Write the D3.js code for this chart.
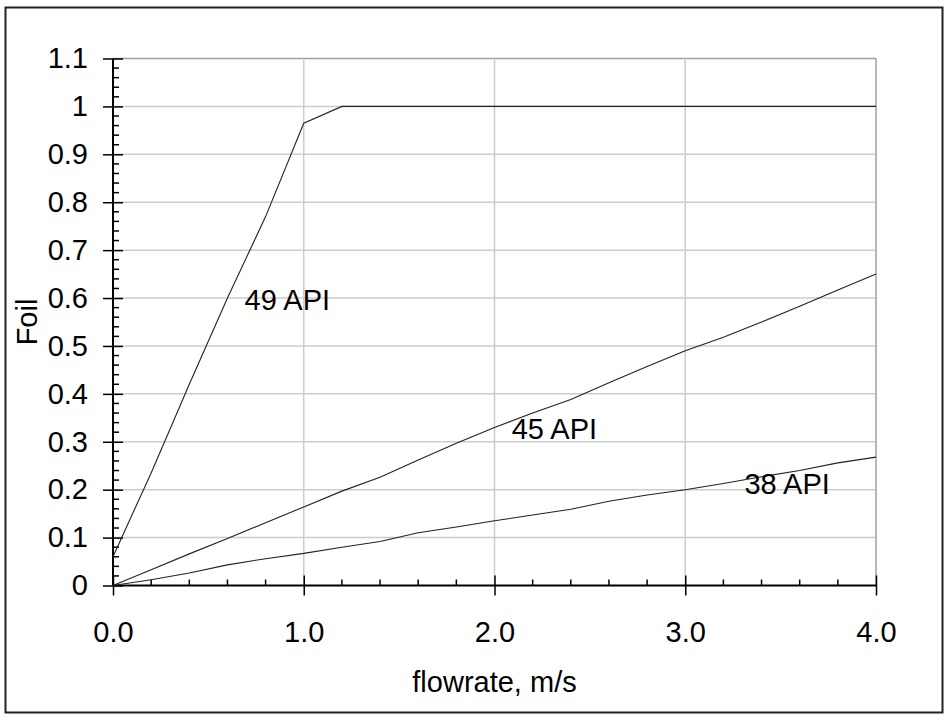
<!DOCTYPE html>
<html>
<head>
<meta charset="utf-8">
<script src="https://cdn.jsdelivr.net/npm/d3@7"></script>
<style>
  body { margin: 0; background: #fff; }
  text { font-family: "Liberation Sans", Arial, sans-serif; fill: #000; }
</style>
</head>
<body>
<svg width="949" height="720"></svg>
<script>
// flowrate (m/s) sample points
var flow = [0, 0.2, 0.4, 0.6, 0.8, 1.0, 1.2, 1.4, 1.6, 1.8, 2.0,
            2.2, 2.4, 2.6, 2.8, 3.0, 3.2, 3.4, 3.6, 3.8, 4.0];

// Foil per oil gravity
var api49 = [0.06, 0.235, 0.42, 0.60, 0.77, 0.965, 1, 1, 1, 1, 1,
             1, 1, 1, 1, 1, 1, 1, 1, 1, 1];
var api45 = [0, 0.033, 0.066, 0.098, 0.131, 0.164, 0.197, 0.226, 0.262, 0.297, 0.33,
             0.36, 0.388, 0.423, 0.457, 0.49, 0.518, 0.55, 0.583, 0.617, 0.65];
var api38 = [0, 0.012, 0.026, 0.043, 0.056, 0.067, 0.08, 0.092, 0.11, 0.122, 0.135,
             0.147, 0.159, 0.176, 0.189, 0.2, 0.213, 0.227, 0.24, 0.256, 0.268];

var seriesNames = ["49 API", "45 API", "38 API"];
// where each label sits (data coords)
var labelX = [0.69, 2.09, 3.31];
var labelY = [0.575, 0.305, 0.19];

var yTicks = [0, 0.1, 0.2, 0.3, 0.4, 0.5, 0.6, 0.7, 0.8, 0.9, 1, 1.1];
var yTickLabels = ["0", "0.1", "0.2", "0.3", "0.4", "0.5", "0.6", "0.7", "0.8", "0.9", "1", "1.1"];
var xTicks = [0, 1, 2, 3, 4];
var xTickLabels = ["0.0", "1.0", "2.0", "3.0", "4.0"];

var svg = d3.select("svg");

// outer frame
svg.append("rect")
    .attr("x", 5.5).attr("y", 7.5)
    .attr("width", 937).attr("height", 705)
    .attr("fill", "none")
    .attr("stroke", "#222")
    .attr("stroke-width", 2);

var x = d3.scaleLinear().domain([0, 4]).range([113, 876]);
var y = d3.scaleLinear().domain([0, 1.1]).range([585.5, 58.5]);

var g = svg.append("g");

// grid
g.selectAll(".hgrid")
    .data(yTicks.slice(1))
    .enter().append("line")
    .attr("x1", x(0)).attr("x2", x(4))
    .attr("y1", function(d) { return y(d); })
    .attr("y2", function(d) { return y(d); })
    .attr("stroke", function(d, i) { return i == yTicks.length - 2 ? "#a0a0a0" : "#cccccc"; })
    .attr("stroke-width", 1.5);

g.selectAll(".vgrid")
    .data(xTicks.slice(1))
    .enter().append("line")
    .attr("y1", y(0)).attr("y2", y(1.1))
    .attr("x1", function(d) { return x(d); })
    .attr("x2", function(d) { return x(d); })
    .attr("stroke", function(d, i) { return i == xTicks.length - 2 ? "#a0a0a0" : "#cccccc"; })
    .attr("stroke-width", 1.5);

// minor ticks
var yMinor = d3.range(0, 56).map(function(i) { return i * 0.02; }).filter(function(d, i) { return i % 5 != 0; });
g.selectAll(".yminor")
    .data(yMinor)
    .enter().append("line")
    .attr("x1", x(0)).attr("x2", x(0) + 6)
    .attr("y1", function(d) { return y(d); })
    .attr("y2", function(d) { return y(d); })
    .attr("stroke", "#000").attr("stroke-width", 1.5);

var xMinor = d3.range(0, 21).map(function(i) { return i * 0.2; }).filter(function(d, i) { return i % 5 != 0; });
g.selectAll(".xminor")
    .data(xMinor)
    .enter().append("line")
    .attr("y1", y(0)).attr("y2", y(0) - 6)
    .attr("x1", function(d) { return x(d); })
    .attr("x2", function(d) { return x(d); })
    .attr("stroke", "#000").attr("stroke-width", 1.5);

// axes
var yAxis = g.append("g")
    .attr("transform", "translate(" + x(0) + ",0)")
    .call(d3.axisLeft(y).tickValues(yTicks)
        .tickFormat(function(d, i) { return yTickLabels[i]; })
        .tickSizeOuter(0).tickSize(10).tickPadding(15));

var xAxis = g.append("g")
    .attr("transform", "translate(0," + y(0) + ")")
    .call(d3.axisBottom(x).tickValues(xTicks)
        .tickFormat(function(d, i) { return xTickLabels[i]; })
        .tickSizeOuter(0).tickSize(10).tickPadding(26));

[yAxis, xAxis].forEach(function(a) {
    a.select(".domain").attr("stroke", "#000").attr("stroke-width", 2);
    a.selectAll(".tick line").attr("stroke", "#000").attr("stroke-width", 1.5);
    a.selectAll(".tick text")
        .style("font-family", '"Liberation Sans", Arial, sans-serif')
        .style("font-size", "29px")
        .attr("fill", "#000");
});
// ticks cross the axis lines
yAxis.selectAll(".tick line").attr("x1", 10).attr("x2", -10);
xAxis.selectAll(".tick line").attr("y1", -10).attr("y2", 10);
yAxis.select(".domain").attr("d", "M0," + y(1.1) + "V" + y(0));
xAxis.select(".domain").attr("d", "M" + x(0) + ",0H" + x(4));

// lines
var line = d3.line()
    .x(function(d, i) { return x(flow[i]); })
    .y(function(d) { return y(d); });

[api49, api45, api38].forEach(function(s) {
    g.append("path")
        .datum(s)
        .attr("d", line)
        .attr("fill", "none")
        .attr("stroke", "#222")
        .attr("stroke-width", 1.1);
});

// series labels
g.selectAll(".lbl")
    .data(seriesNames)
    .enter().append("text")
    .attr("x", function(d, i) { return x(labelX[i]); })
    .attr("y", function(d, i) { return y(labelY[i]); })
    .style("font-size", "29px")
    .text(function(d) { return d; });

// axis titles
svg.append("text")
    .attr("text-anchor", "middle")
    .attr("transform", "translate(37," + (y(0.55)) + ")rotate(-90)")
    .style("font-size", "29px")
    .text("Foil");

svg.append("text")
    .attr("text-anchor", "middle")
    .attr("x", (x(0) + x(4)) / 2)
    .attr("y", 692)
    .style("font-size", "29px")
    .text("flowrate, m/s");
</script>
</body>
</html>
